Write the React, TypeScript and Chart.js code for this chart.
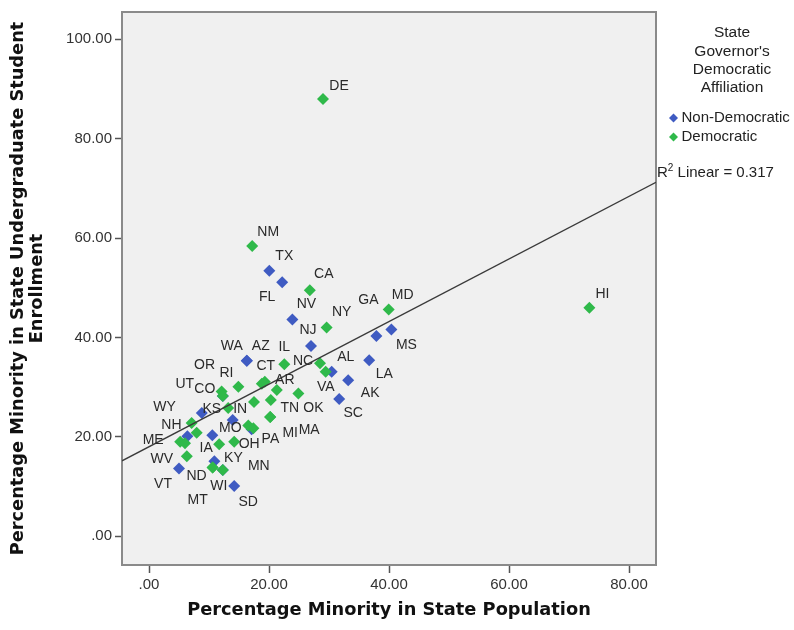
import React, { useEffect, useRef } from 'react';
import { Chart, registerables } from 'chart.js';

Chart.register(...registerables);

// ---------------- data ----------------
const nonDemStates = ['TX', 'FL', 'NV', 'NJ', 'GA', 'MS', 'LA', 'AL', 'AK', 'SC', 'AZ', 'WA', 'KS', 'NH', 'MO', 'VT', 'KY', 'SD', 'UT', 'MN', '', ''];
const nonDemPctPopulation = [20.05, 22.2, 23.9, 27.0, 37.9, 40.4, 36.7, 30.45, 33.2, 31.7, 16.3, 16.3, 8.8, 6.4, 10.55, 5.0, 10.9, 14.2, 12.3, 12.3, 13.95, 17.1];
const nonDemPctEnrollment = [53.4, 51.1, 43.6, 38.3, 40.3, 41.6, 35.4, 33.1, 31.4, 27.6, 35.3, 35.3, 24.8, 20.1, 20.3, 13.6, 15.1, 10.1, 28.2, 13.3, 23.4, 21.5];

const demStates = ['DE', 'NM', 'CA', 'NY', 'MD', 'HI', 'IL', 'NC', 'VA', 'RI', 'OR', 'CO', 'CT', 'AR', 'TN', 'OK', 'IN', 'MI', 'MA', 'WY', 'ME', 'IA', 'OH', 'PA', 'WV', 'ND', 'WI', 'MT', '', '', '', '', ''];
const demPctPopulation = [29.0, 17.2, 26.8, 29.6, 39.95, 73.4, 22.55, 28.5, 29.45, 14.9, 12.1, 12.3, 18.8, 19.3, 21.3, 24.9, 13.2, 20.2, 20.2, 7.1, 5.2, 11.7, 14.2, 17.4, 6.3, 10.6, 12.3, 10.6, 17.5, 20.3, 7.95, 6.0, 16.55];
const demPctEnrollment = [88.0, 58.4, 49.5, 42.0, 45.6, 46.0, 34.6, 34.8, 33.1, 30.1, 29.1, 28.2, 30.7, 31.1, 29.4, 28.7, 25.8, 24.0, 24.0, 22.8, 19.0, 18.5, 19.0, 21.7, 16.1, 13.8, 13.3, 13.8, 27.0, 27.4, 20.8, 18.7, 22.3];

const seriesNames = ['Non-Democratic', 'Democratic'];
const legendTitle = ['State', "Governor's", 'Democratic', 'Affiliation'];
const xTickValues = [0, 20, 40, 60, 80];
const yTickValues = [0, 20, 40, 60, 80, 100];
const fitIntercept = 18.0;
const fitSlope = 0.63;
const fitR2Text = 'Linear = 0.317';
const xTitle = 'Percentage Minority in State Population';
const yTitle = ['Percentage Minority in State Undergraduate Student', 'Enrollment'];

// ---------------- styles ----------------
const FONT = '"Liberation Sans", Arial, Helvetica, sans-serif';
const TITLE_FONT = '"DejaVu Sans", Verdana, sans-serif';
const BLUE = '#3f5bc2';
const GREEN = '#2fb94a';
const X_MIN = -4.5;
const X_MAX = 84.5;
const Y_MIN = -5.8;
const Y_MAX = 105.5;

// label offsets (px) from each point's marker
const labelOffsets: Record<string, [number, number]> = {
  TX: [15, -15], FL: [-15, 15], NV: [14, -15], NJ: [-3, -16], GA: [-8, -36], MS: [15, 16],
  LA: [15, 14], AL: [14, -15], AK: [22, 13], SC: [14, 14], AZ: [14, -15], WA: [-15, -15],
  KS: [10, -4], NH: [-16, -11], MO: [18, -7], VT: [-16, 16], KY: [19, -3], SD: [14, 16],
  UT: [-38, -12], MN: [36, -4],
  DE: [16, -13], NM: [16, -14], CA: [14, -16], NY: [15, -15], MD: [14, -14], HI: [13, -13],
  IL: [0, -17], NC: [-17, -2], VA: [0, 15], RI: [-12, -13], OR: [-17, -26], CO: [-18, -7],
  CT: [4, -18], AR: [20, -2], TN: [13, 18], OK: [15, 15], IN: [12, 1], MI: [20, 16],
  MA: [39, 13], WY: [-27, -16], ME: [-27, -2], IA: [-13, 4], OH: [15, 2], PA: [17, 11],
  WV: [-25, 3], ND: [-16, 9], WI: [-4, 16], MT: [-15, 33],
};

const fmtTick = (v: number) => (v === 0 ? '.00' : Number(v).toFixed(2));

function diamond(ctx: CanvasRenderingContext2D, x: number, y: number, r: number, color: string) {
  ctx.beginPath();
  ctx.moveTo(x - r, y);
  ctx.lineTo(x, y - r);
  ctx.lineTo(x + r, y);
  ctx.lineTo(x, y + r);
  ctx.closePath();
  ctx.fillStyle = color;
  ctx.fill();
}

const framePlugin = {
  id: 'frame',
  beforeDraw(chart: any) {
    const { ctx, chartArea: a, width, height } = chart;
    ctx.save();
    ctx.fillStyle = '#ffffff';
    ctx.fillRect(0, 0, width, height);
    ctx.fillStyle = '#f0f0f0';
    ctx.fillRect(a.left, a.top, a.right - a.left, a.bottom - a.top);
    ctx.restore();
  },
  beforeDatasetsDraw(chart: any) {
    const { ctx, chartArea: a } = chart;
    ctx.save();
    ctx.strokeStyle = '#8a8a8a';
    ctx.lineWidth = 2;
    ctx.strokeRect(a.left, a.top, a.right - a.left, a.bottom - a.top);
    ctx.restore();
  },
};

const pointLabelPlugin = {
  id: 'pointLabels',
  afterDatasetsDraw(chart: any) {
    const { ctx } = chart;
    const xs = chart.scales.x;
    const ys = chart.scales.y;
    ctx.save();
    ctx.font = `14px ${FONT}`;
    ctx.fillStyle = '#2a2a2a';
    ctx.textAlign = 'center';
    ctx.textBaseline = 'middle';
    const groups: [string[], number[], number[]][] = [
      [nonDemStates, nonDemPctPopulation, nonDemPctEnrollment],
      [demStates, demPctPopulation, demPctEnrollment],
    ];
    groups.forEach(([names, px, py]) => {
      names.forEach((n, i) => {
        const off = labelOffsets[n];
        if (!n || !off) return;
        const x = xs.getPixelForValue(px[i]);
        const y = ys.getPixelForValue(py[i]);
        ctx.fillText(n, x + off[0], y + off[1]);
      });
    });
    ctx.restore();
  },
};

const legendPlugin = {
  id: 'customLegend',
  afterDraw(chart: any) {
    const { ctx, chartArea: a } = chart;
    const ys = chart.scales.y;
    ctx.save();
    ctx.fillStyle = '#222';
    ctx.textBaseline = 'middle';
    ctx.textAlign = 'center';
    ctx.font = `15.5px ${FONT}`;
    const cx = 732;
    legendTitle.forEach((t, i) => ctx.fillText(t, cx, 33 + i * 18.4));
    ctx.textAlign = 'left';
    ctx.font = `15px ${FONT}`;
    const colors = [BLUE, GREEN];
    seriesNames.forEach((n, i) => {
      const y = 118 + i * 19;
      diamond(ctx, 673.5, y, 4.5, colors[i]);
      ctx.fillStyle = '#222';
      ctx.fillText(n, 681.5, y);
    });
    // R^2 label at right end of fit line
    const yEnd = ys.getPixelForValue(fitIntercept + fitSlope * X_MAX);
    const ly = yEnd - 9;
    let lx = a.right + 1;
    ctx.font = `15px ${FONT}`;
    ctx.fillText('R', lx, ly);
    lx += ctx.measureText('R').width;
    ctx.font = `10px ${FONT}`;
    ctx.fillText('2', lx, ly - 5);
    lx += ctx.measureText('2').width;
    ctx.font = `15px ${FONT}`;
    ctx.fillText(' ' + fitR2Text, lx, ly);
    ctx.restore();
  },
};

export default function App() {
  const ref = useRef<HTMLCanvasElement | null>(null);
  useEffect(() => {
    if (!ref.current) return;
    const chart = new Chart(ref.current, {
      type: 'scatter',
      data: {
        datasets: [
          {
            type: 'line',
            label: 'fit',
            data: [
              { x: X_MIN, y: fitIntercept + fitSlope * X_MIN },
              { x: X_MAX, y: fitIntercept + fitSlope * X_MAX },
            ],
            borderColor: '#3a3a3a',
            borderWidth: 1.4,
            pointRadius: 0,
            showLine: true,
            fill: false,
            order: 0,
          } as any,
          {
            label: seriesNames[1],
            data: demPctPopulation.map((x, i) => ({ x, y: demPctEnrollment[i] })),
            pointStyle: 'rectRot',
            pointRadius: 6,
            backgroundColor: GREEN,
            borderColor: GREEN,
            borderWidth: 0,
            order: 1,
          },
          {
            label: seriesNames[0],
            data: nonDemPctPopulation.map((x, i) => ({ x, y: nonDemPctEnrollment[i] })),
            pointStyle: 'rectRot',
            pointRadius: 6,
            backgroundColor: BLUE,
            borderColor: BLUE,
            borderWidth: 0,
            order: 2,
          },
        ],
      },
      options: {
        animation: false,
        responsive: false,
        maintainAspectRatio: false,
        layout: { padding: { top: 12, right: 138, left: 0, bottom: 0 } },
        plugins: {
          legend: { display: false },
          tooltip: { enabled: false },
          title: { display: false },
        },
        scales: {
          x: {
            type: 'linear',
            min: X_MIN,
            max: X_MAX,
            afterBuildTicks: (s: any) => {
              s.ticks = xTickValues.map((v) => ({ value: v }));
            },
            afterFit: (s: any) => {
              s.height = 65;
            },
            grid: {
              display: true,
              drawOnChartArea: false,
              drawTicks: true,
              tickLength: 8,
              tickColor: '#555',
              tickWidth: 1.5,
            },
            border: { display: false },
            ticks: {
              padding: 3,
              color: '#333',
              font: { family: FONT, size: 15 },
              maxRotation: 0,
              autoSkip: false,
              callback: (v: any) => fmtTick(v),
            },
            title: {
              display: true,
              text: xTitle,
              color: '#111',
              font: { family: TITLE_FONT, size: 17.8, weight: 'bold', lineHeight: 1.2 },
              padding: { top: 0, bottom: 9 },
            },
          },
          y: {
            type: 'linear',
            min: Y_MIN,
            max: Y_MAX,
            afterBuildTicks: (s: any) => {
              s.ticks = yTickValues.map((v) => ({ value: v }));
            },
            afterFit: (s: any) => {
              s.width = 122;
            },
            grid: {
              display: true,
              drawOnChartArea: false,
              drawTicks: true,
              tickLength: 7,
              tickColor: '#555',
              tickWidth: 1.5,
            },
            border: { display: false },
            ticks: {
              padding: 3,
              color: '#333',
              font: { family: FONT, size: 15 },
              autoSkip: false,
              callback: (v: any) => fmtTick(v),
            },
            title: {
              display: true,
              text: yTitle,
              color: '#111',
              font: { family: TITLE_FONT, size: 17.8, weight: 'bold', lineHeight: 1.1 },
              padding: { top: 8.5, bottom: 0 },
            },
          },
        },
      } as any,
      plugins: [framePlugin, pointLabelPlugin, legendPlugin],
    });
    return () => chart.destroy();
  }, []);

  return (
    <div style={{ position: 'fixed', left: 0, top: 0, width: 794, height: 630, background: '#fff' }}>
      <canvas ref={ref} width={794} height={630} style={{ width: 794, height: 630, display: 'block' }} />
    </div>
  );
}
